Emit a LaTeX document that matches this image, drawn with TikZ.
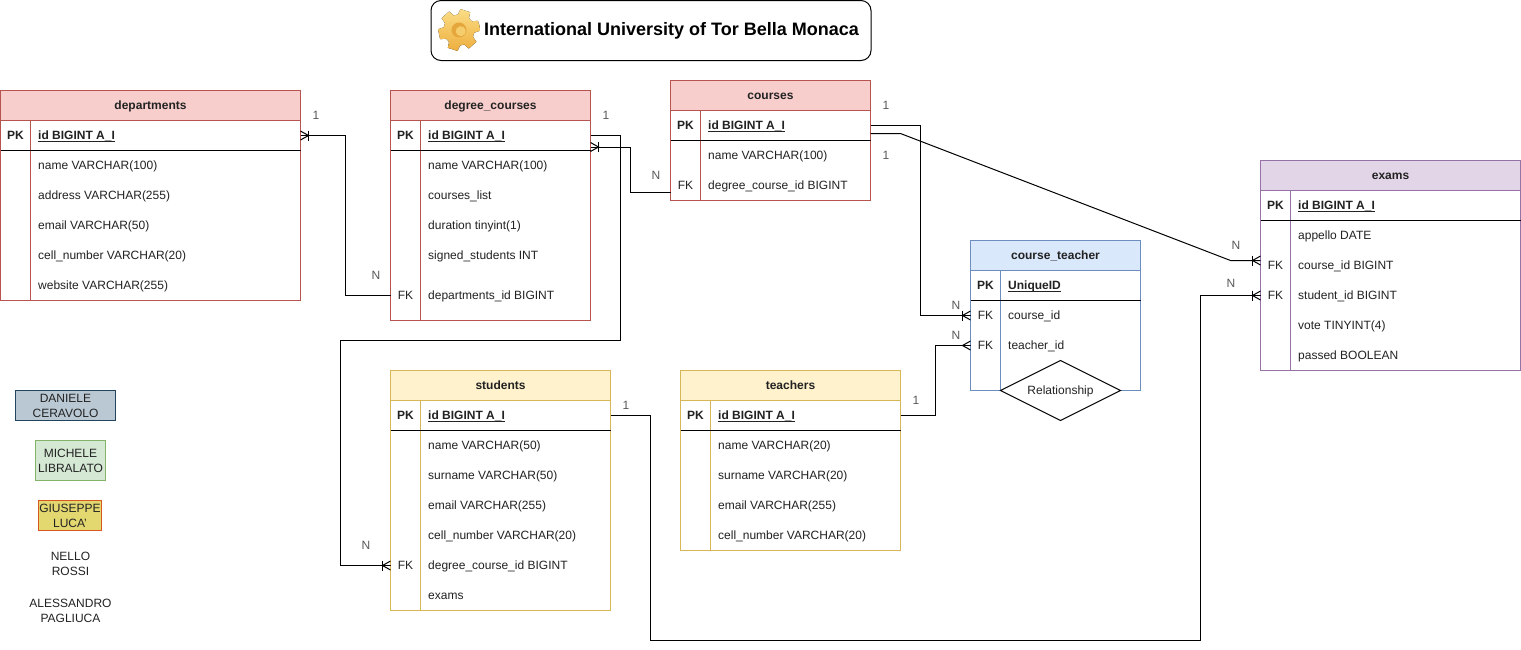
\documentclass[tikz,border=0pt]{standalone}
\usepackage{fontspec}
\setmainfont{Liberation Sans}
\usetikzlibrary{shapes.geometric,calc}
\definecolor{redF}{HTML}{F8CECC}\definecolor{redS}{HTML}{B85450}
\definecolor{bluF}{HTML}{DAE8FC}\definecolor{bluS}{HTML}{6C8EBF}
\definecolor{yelF}{HTML}{FFF2CC}\definecolor{yelS}{HTML}{D6B656}
\definecolor{purF}{HTML}{E1D5E7}\definecolor{purS}{HTML}{9673A6}
\definecolor{slaF}{HTML}{BAC8D3}\definecolor{slaS}{HTML}{23445D}
\definecolor{greF}{HTML}{D5E8D4}\definecolor{greS}{HTML}{82B366}
\definecolor{golF}{HTML}{E3D770}\definecolor{golS}{HTML}{D9581F}
\definecolor{txt}{HTML}{222222}
\definecolor{gearA}{HTML}{FBDD85}\definecolor{gearB}{HTML}{EDAE3E}
\definecolor{gearC}{HTML}{E5A63C}\definecolor{gearD}{HTML}{F6CD6C}
\tikzset{
  tblbox/.style={rectangle,inner sep=0pt,outer sep=0pt,line width=1pt,fill=white,anchor=north west},
  hdrbox/.style={rectangle,inner sep=0pt,outer sep=0pt,line width=1pt,anchor=north west,minimum height=30pt,font=\fontsize{12}{14}\selectfont\bfseries,text=txt},
  fieldrow/.style={rectangle,inner sep=0pt,outer sep=0pt,anchor=west,minimum height=30pt},
  keytxt/.style={inner sep=0pt,yshift=-1pt,text height=9pt,text depth=3pt,font=\fontsize{12}{14}\selectfont,text=txt},
  fieldtxt/.style={inner sep=0pt,yshift=-1pt,anchor=west,text height=9pt,text depth=3pt,font=\fontsize{12}{14}\selectfont,text=txt},
  conn/.style={line width=1pt,black,line join=miter},
  cardlbl/.style={inner sep=0pt,font=\fontsize{12}{14}\selectfont,text=txt!75},
  legend/.style={rectangle,inner sep=0pt,outer sep=0pt,line width=1pt,align=center,font=\fontsize{12}{15}\selectfont,text=txt},
  legendplain/.style={inner sep=0pt,align=center,font=\fontsize{12}{15}\selectfont,text=txt}
}
% id, x, y, w, h, title, fill, stroke
\newcommand\ertable[8]{%
  \def\tx{#2}\def\ty{#3}\def\tw{#4}\def\tend{#5}%
  \node[tblbox,draw=#8,minimum width=#4pt,minimum height=#5pt] (#1) at (#2,#3) {};
  \node[hdrbox,fill=#7,draw=#8,minimum width=#4pt] (#1-head) at (#2,#3) {\raisebox{0pt}[8pt][0pt]{#6}};
  \draw[line width=1pt,#8] ({#2+30},{#3+30}) -- ({#2+30},{#3+#5});
  \draw[line width=1pt,black] (#2,{#3+60}) -- ({#2+#4},{#3+60});
}
% id, y, key, text
\newcommand\errow[4]{%
  \node[fieldrow,minimum width=\tw pt] (#1) at (\tx,#2) {};
  \node[keytxt] (#1-key) at ({\tx+15},#2) {#3};
  \node[fieldtxt] (#1-txt) at ({\tx+37.5},#2) {#4};
}
\newcommand\pkrow[3]{\errow{#1}{#2}{\textbf{PK}}{\underline{\smash{\textbf{#3}}}}}
% crow's foot: point, direction (1 = opens to the right, -1 = opens to the left), with bar?
\newcommand\crowbar[2]{%
  \begin{scope}[shift={(#1)},xscale=#2]
    \draw[conn] (0,-4.5) -- (-8,0) -- (0,4.5);
    \draw[conn] (-8,-5) -- (-8,5);
  \end{scope}}
\newcommand\crow[2]{%
  \begin{scope}[shift={(#1)},xscale=#2]
    \draw[conn] (0,-4.5) -- (-8,0) -- (0,4.5);
  \end{scope}}
\begin{document}
\begin{tikzpicture}[x=1pt,y=-1pt]
\useasboundingbox (0,0) rectangle (1521,649);
\fill[white] (0,0) rectangle (1521,649);

% title
\node[rectangle,rounded corners=10pt,draw=black,line width=1pt,minimum width=440pt,minimum height=60pt,inner sep=0pt,outer sep=0pt,anchor=north west] (titlebox) at (431,0.5) {};
\node[inner sep=0pt,anchor=west,font=\fontsize{18}{20}\selectfont\bfseries,text=black] (titletext) at (484,31) {International University of Tor Bella Monaca};

% tables
\ertable{departments}{0.5}{90.5}{300}{210}{departments}{redF}{redS}
\pkrow{dep-id}{135.5}{id BIGINT A\_I}
\errow{dep-name}{165.5}{}{name VARCHAR(100)}
\errow{dep-address}{195.5}{}{address VARCHAR(255)}
\errow{dep-email}{225.5}{}{email VARCHAR(50)}
\errow{dep-cell}{255.5}{}{cell\_number VARCHAR(20)}
\errow{dep-web}{285.5}{}{website VARCHAR(255)}

\ertable{degree}{390.5}{90.5}{200}{230}{degree\_courses}{redF}{redS}
\pkrow{deg-id}{135.5}{id BIGINT A\_I}
\errow{deg-name}{165.5}{}{name VARCHAR(100)}
\errow{deg-list}{195.5}{}{courses\_list}
\errow{deg-dur}{225.5}{}{duration tinyint(1)}
\errow{deg-sign}{255.5}{}{signed\_students INT}
\errow{deg-dep}{295.5}{FK}{departments\_id BIGINT}

\ertable{courses}{670.5}{80.5}{200}{120}{courses}{redF}{redS}
\pkrow{cou-id}{125.5}{id BIGINT A\_I}
\errow{cou-name}{155.5}{}{name VARCHAR(100)}
\errow{cou-deg}{185.5}{FK}{degree\_course\_id BIGINT}

\ertable{exams}{1260.5}{160.5}{260}{210}{exams}{purF}{purS}
\pkrow{exa-id}{205.5}{id BIGINT A\_I}
\errow{exa-app}{235.5}{}{appello DATE}
\errow{exa-cou}{265.5}{FK}{course\_id BIGINT}
\errow{exa-stu}{295.5}{FK}{student\_id BIGINT}
\errow{exa-vote}{325.5}{}{vote TINYINT(4)}
\errow{exa-pass}{355.5}{}{passed BOOLEAN}

\ertable{courseteacher}{970.5}{240.5}{170}{150}{course\_teacher}{bluF}{bluS}
\pkrow{ct-id}{285.5}{UniqueID}
\errow{ct-cou}{315.5}{FK}{course\_id}
\errow{ct-tea}{345.5}{FK}{teacher\_id}
\node[diamond,draw=black,fill=white,line width=1pt,inner sep=0pt,outer sep=0pt,minimum width=120pt,minimum height=60pt,aspect=2,font=\fontsize{12}{14}\selectfont,text=txt] (rel) at (1060.5,390.5) {\raisebox{0pt}[8pt][0pt]{Relationship}};

\ertable{students}{390.5}{370.5}{220}{240}{students}{yelF}{yelS}
\pkrow{stu-id}{415.5}{id BIGINT A\_I}
\errow{stu-name}{445.5}{}{name VARCHAR(50)}
\errow{stu-sur}{475.5}{}{surname VARCHAR(50)}
\errow{stu-email}{505.5}{}{email VARCHAR(255)}
\errow{stu-cell}{535.5}{}{cell\_number VARCHAR(20)}
\errow{stu-deg}{565.5}{FK}{degree\_course\_id BIGINT}
\errow{stu-exams}{595.5}{}{exams}

\ertable{teachers}{680.5}{370.5}{220}{180}{teachers}{yelF}{yelS}
\pkrow{tea-id}{415.5}{id BIGINT A\_I}
\errow{tea-name}{445.5}{}{name VARCHAR(20)}
\errow{tea-sur}{475.5}{}{surname VARCHAR(20)}
\errow{tea-email}{505.5}{}{email VARCHAR(255)}
\errow{tea-cell}{535.5}{}{cell\_number VARCHAR(20)}

% gear
\begin{scope}[shift={(459,30)},rotate=12]
  \fill[top color=gearA,bottom color=gearB]
    (0:21) -- (14:21) -- (22:15.5) -- (38:15.5) -- (46:21) -- (74:21) -- (82:15.5) -- (98:15.5) -- (106:21) -- (134:21)
    -- (142:15.5) -- (158:15.5) -- (166:21) -- (194:21) -- (202:15.5) -- (218:15.5) -- (226:21) -- (254:21)
    -- (262:15.5) -- (278:15.5) -- (286:21) -- (314:21) -- (322:15.5) -- (338:15.5) -- (346:21) -- cycle;
  \fill[gearC] (0,0) circle (7.5);
  \fill[gearD] (1.5,1.5) circle (5);
\end{scope}

% connector end points
\coordinate (j2) at ($(deg-id.east)+(0,11.5)$);
\coordinate (j3) at ($(cou-id.east)+(0,8)$);
\coordinate (j5) at ($(exa-cou.west)+(0,-5)$);
\coordinate (j6) at ($(cou-deg.west)+(0,6.5)$);

% connectors
\draw[conn] (dep-id.east) -- ++(45,0) |- (deg-dep.west);
\crowbar{dep-id.east}{-1}
\draw[conn] (deg-id.east) -- (620.5,135.5) -- (620.5,340.5) -- (340.5,340.5) -- (340.5,565.5) -- (stu-deg.west);
\crowbar{stu-deg.west}{1}
\draw[conn] (j6) -- (630.5,192) -- (630.5,147) -- (j2);
\crowbar{j2}{-1}
\draw[conn] (cou-id.east) -- (920.5,125.5) |- (ct-cou.west);
\crowbar{ct-cou.west}{1}
\draw[conn] (j3) -- (900.5,133.5) -- (1230.5,260.5) -- (j5);
\crowbar{j5}{1}
\draw[conn] (stu-id.east) -- (650.5,415.5) -- (650.5,640.5) -- (1200.5,640.5) -- (1200.5,295.5) -- (exa-stu.west);
\crowbar{exa-stu.west}{1}
\draw[conn] (tea-id.east) -- (935.5,415.5) |- (ct-tea.west);
\crow{ct-tea.west}{1}

% cardinalities
\node[cardlbl] (c1) at (316,115) {1};
\node[cardlbl] (c2) at (376,275) {N};
\node[cardlbl] (c3) at (606,115) {1};
\node[cardlbl] (c4) at (366,545) {N};
\node[cardlbl] (c5) at (656,175) {N};
\node[cardlbl] (c6) at (886,105) {1};
\node[cardlbl] (c7) at (886,155) {1};
\node[cardlbl] (c8) at (956,305) {N};
\node[cardlbl] (c9) at (956,335) {N};
\node[cardlbl] (c10) at (916,400) {1};
\node[cardlbl] (c11) at (1236,245) {N};
\node[cardlbl] (c12) at (1231,283) {N};
\node[cardlbl] (c13) at (626,405) {1};

% authors
\node[legend,draw=slaS,fill=slaF,minimum width=100pt,minimum height=30pt] (a1) at (65.5,405.5) {DANIELE\\CERAVOLO};
\node[legend,draw=greS,fill=greF,minimum width=70pt,minimum height=40pt] (a2) at (70.5,460.5) {MICHELE\\LIBRALATO};
\node[legend,draw=golS,fill=golF,minimum width=63pt,minimum height=30pt] (a3) at (70,515.5) {GIUSEPPE\\LUCA'};
\node[legendplain] (a4) at (70.5,563.5) {NELLO\\ROSSI};
\node[legendplain] (a5) at (70.5,610.5) {ALESSANDRO\\PAGLIUCA};
\end{tikzpicture}
\end{document}
